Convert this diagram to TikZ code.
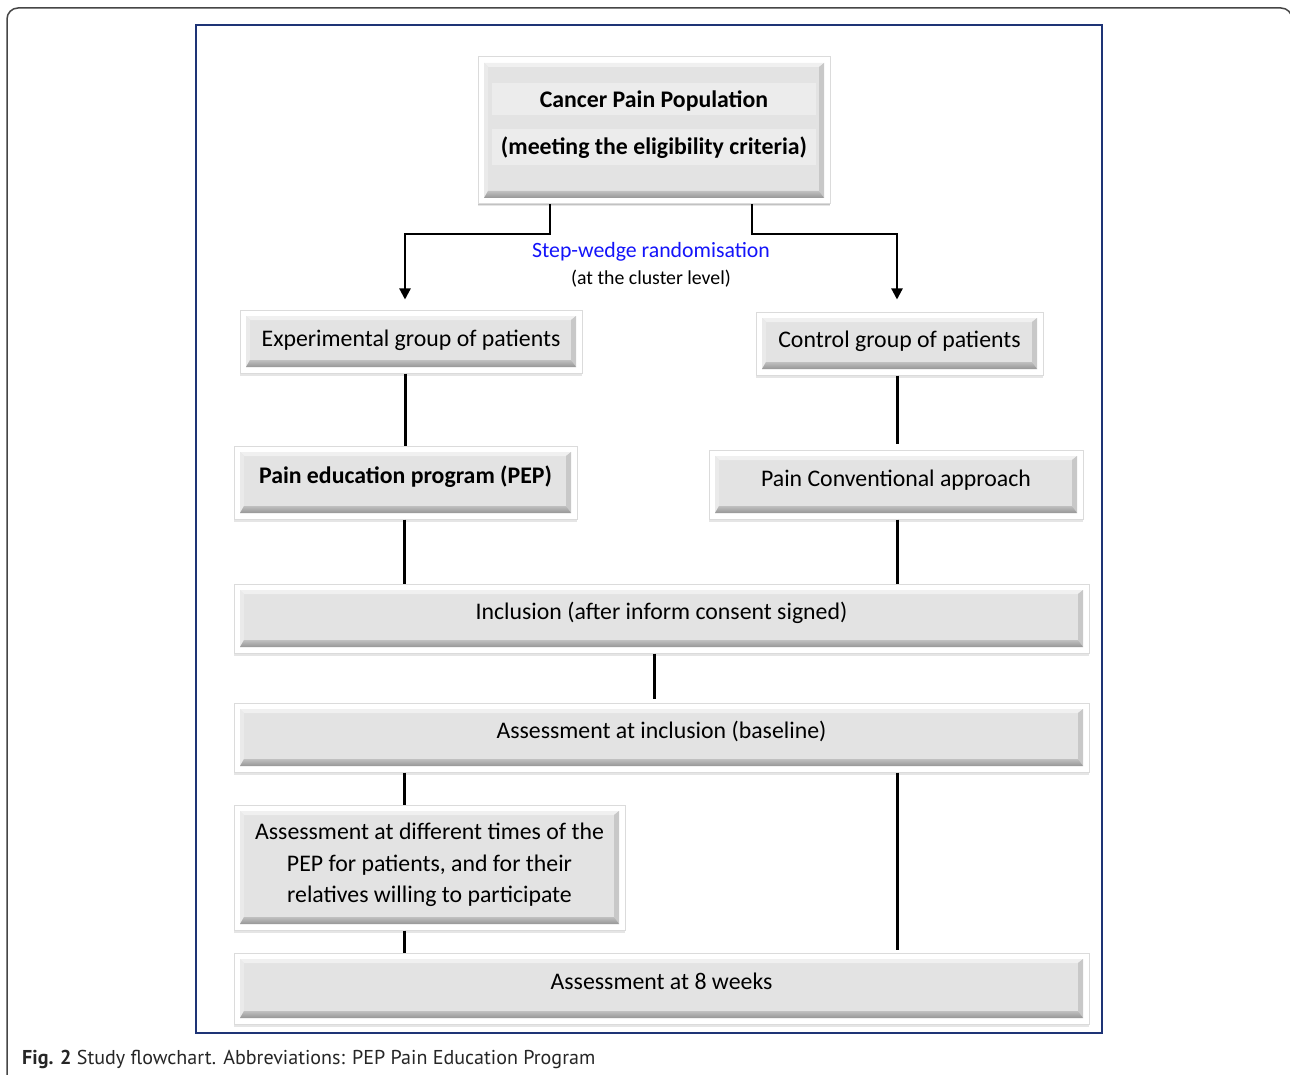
\documentclass[tikz,border=0pt]{standalone}
\usepackage{fontspec}
\setmainfont{Carlito}
\newfontfamily\capfont{PT Sans}
\usetikzlibrary{arrows.meta,shadows,calc}
\definecolor{navy}{RGB}{30,52,118}
\definecolor{faceC}{RGB}{227,227,227}
\definecolor{topC}{RGB}{240,240,240}
\definecolor{leftC}{RGB}{234,234,234}
\definecolor{rightC}{RGB}{200,200,200}
\definecolor{botC}{RGB}{150,150,150}
\definecolor{bandC}{RGB}{236,236,236}
\definecolor{frameC}{RGB}{70,70,70}
\definecolor{randblue}{RGB}{20,20,250}
\newcommand\rt[2]{\raisebox{#1}[\height][\depth]{\begin{tabular}{@{}c@{}}#2\end{tabular}}}
\newcommand\bevelcode{%
  \path (path picture bounding box.north west) coordinate (bNW)
        (path picture bounding box.south east) coordinate (bSE);
  \path ([shift={(6pt,-6pt)}]bNW) coordinate (o1) ([shift={(-6pt,6pt)}]bSE) coordinate (o3);
  \path (o1 -| o3) coordinate (o2) (o1 |- o3) coordinate (o4);
  \path ([shift={(4pt,-4pt)}]o1) coordinate (i1) ([shift={(-5pt,7pt)}]o3) coordinate (i3);
  \path (i1 -| i3) coordinate (i2) (i1 |- i3) coordinate (i4);
  \fill[faceC] (o1) rectangle (o3);
  \fill[topC] (o1) -- (o2) -- (i2) -- (i1) -- cycle;
  \fill[leftC] (o1) -- (i1) -- (i4) -- (o4) -- cycle;
  \fill[rightC] (o2) -- (o3) -- (i3) -- (i2) -- cycle;
  \shade[top color=botC!60, bottom color=botC] (o4) -- (i4) -- (i3) -- (o3) -- cycle;
}
\tikzset{
  box/.style={rectangle, fill=white, draw=black!14, line width=1pt,
    inner sep=0pt,
    drop shadow={shadow xshift=0pt, shadow yshift=-2.5pt, opacity=0.10, fill=black},
    drop shadow={shadow xshift=0pt, shadow yshift=-1.2pt, opacity=0.15, fill=black},
    font=\fontsize{23.8}{31.5}\selectfont,
    path picture={\bevelcode}},
  popbox/.style={box, path picture={\bevelcode
      \fill[bandC] ([shift={(14pt,-26pt)}]bNW) rectangle ([shift={(338pt,-58pt)}]bNW);
      \fill[bandC] ([shift={(14pt,-72pt)}]bNW) rectangle ([shift={(338pt,-108pt)}]bNW);}},
  conn/.style={line width=3pt, draw=black},
  arr/.style={line width=2.2pt, draw=black, -{Triangle[width=11pt,length=11pt]}},
}
\begin{document}
\begin{tikzpicture}[x=1pt,y=-1pt]
\useasboundingbox (0,0) rectangle (1290,1075);
\fill[white] (0,0) rectangle (1290,1075);
% outer frame
\draw[frameC, line width=1.5pt, rounded corners=11pt] (7,1085) -- (7,8) -- (1292,8) -- (1292,1085);
% blue frame
\draw[navy, line width=1.6pt] (196,25) rectangle (1102,1033);

% boxes
\node[popbox, minimum width=352pt, minimum height=147pt] (pop) at (654,130.5)
  {\rt{6pt}{\textbf{Cancer Pain Population}\\[15.5pt]\textbf{(meeting the eligibility criteria)}}};
\node[box, minimum width=342pt, minimum height=63pt] (exp) at (411,341.5)
  {\rt{1.5pt}{Experimental group of patients}};
\node[box, minimum width=287pt, minimum height=63pt] (ctrl) at (899.5,343.5)
  {\rt{2pt}{Control group of patients}};
\node[box, minimum width=343pt, minimum height=73pt] (pep) at (405.5,482.5)
  {\rt{5pt}{\textbf{Pain education program (PEP)}}};
\node[box, minimum width=374pt, minimum height=69pt] (conv) at (896,484.5)
  {\rt{4pt}{Pain Conventional approach}};
\node[box, minimum width=855pt, minimum height=69pt] (incl) at (661.5,618.5)
  {\rt{5pt}{Inclusion (after inform consent signed)}};
\node[box, minimum width=855pt, minimum height=69pt] (base) at (661.5,737.5)
  {\rt{5pt}{Assessment at inclusion (baseline)}};
\node[box, minimum width=391pt, minimum height=125pt] (diff) at (429.5,867.5)
  {\rt{2.5pt}{Assessment at different times of the\\PEP for patients, and for their\\relatives willing to participate}};
\node[box, minimum width=855pt, minimum height=71pt] (wk8) at (661.5,988.5)
  {\rt{5pt}{Assessment at 8 weeks}};

% labels
\node[text=randblue, font=\fontsize{21.8}{26}\selectfont, inner sep=0pt] (rand) at (651,252) {Step-wedge randomisation};
\node[font=\fontsize{19.8}{24}\selectfont, inner sep=0pt] (lvl) at (651,279) {(at the cluster level)};

% connector coordinates
\coordinate (aL) at (550,0);
\coordinate (aR) at (752,0);
\coordinate (kL) at (405,234);
\coordinate (kR) at (897,234);
\coordinate (vL) at (405,0);
\coordinate (vL2) at (404,0);
\coordinate (vR) at (897,0);
\coordinate (vM) at (654,0);

\draw[arr, shorten >=10pt] (pop.south -| aL) |- (kL) -- (exp.north -| kL);
\draw[arr, shorten >=12pt] (pop.south -| aR) |- (kR) -- (ctrl.north -| kR);
\draw[conn] (exp.south -| vL) -- (pep.north -| vL);
\draw[conn, shorten >=6pt] (ctrl.south -| vR) -- (conv.north -| vR);
\draw[conn] (pep.south -| vL2) -- (incl.north -| vL2);
\draw[conn] (conv.south -| vR) -- (incl.north -| vR);
\draw[conn, shorten >=4pt] (incl.south -| vM) -- (base.north -| vM);
\draw[conn] (base.south -| vL2) -- (diff.north -| vL2);
\draw[conn, shorten >=3pt] (base.south -| vR) -- (wk8.north -| vR);
\draw[conn] (diff.south -| vL2) -- (wk8.north -| vL2);

% caption
\node[anchor=west, inner sep=0pt, text=black!85] (cap) at (22,1059)
  {\resizebox{573pt}{!}{\capfont\textbf{Fig. 2} Study flowchart. Abbreviations: PEP Pain Education Program}};
\end{tikzpicture}
\end{document}
